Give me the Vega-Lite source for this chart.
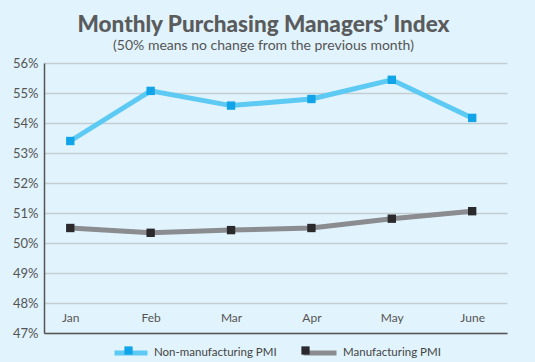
{
  "$schema": "https://vega.github.io/schema/vega-lite/v6.json",
  "width": 463,
  "height": 270,
  "autosize": "none",
  "padding": {"left": 44, "top": 63, "right": 28, "bottom": 29},
  "background": "#e1f3fc",
  "title": {
    "text": "Monthly Purchasing Managers’ Index",
    "subtitle": "(50% means no change from the previous month)",
    "anchor": "middle",
    "dx": -12,
    "offset": 4,
    "font": "Lato",
    "fontSize": 22.5,
    "fontWeight": 900,
    "color": "#5a5b5d",
    "subtitleFont": "Lato",
    "subtitleFontSize": 14,
    "subtitleColor": "#555555",
    "subtitlePadding": 3
  },
  "data": {
    "values": [
      {"month": "Jan", "series": "Non-manufacturing PMI", "value": 53.4},
      {"month": "Feb", "series": "Non-manufacturing PMI", "value": 55.07},
      {"month": "Mar", "series": "Non-manufacturing PMI", "value": 54.58},
      {"month": "Apr", "series": "Non-manufacturing PMI", "value": 54.8},
      {"month": "May", "series": "Non-manufacturing PMI", "value": 55.44},
      {"month": "June", "series": "Non-manufacturing PMI", "value": 54.17},
      {"month": "Jan", "series": "Manufacturing PMI", "value": 50.5},
      {"month": "Feb", "series": "Manufacturing PMI", "value": 50.34},
      {"month": "Mar", "series": "Manufacturing PMI", "value": 50.43},
      {"month": "Apr", "series": "Manufacturing PMI", "value": 50.5},
      {"month": "May", "series": "Manufacturing PMI", "value": 50.81},
      {"month": "June", "series": "Manufacturing PMI", "value": 51.06}
    ]
  },
  "encoding": {
    "x": {
      "field": "month",
      "type": "ordinal",
      "sort": ["Jan", "Feb", "Mar", "Apr", "May", "June"],
      "scale": {"type": "point", "padding": 0.38, "align": 0.43},
      "axis": {
        "title": null,
        "ticks": false,
        "labelAngle": 0,
        "labelPadding": -21,
        "labelFont": "Lato",
        "labelFontSize": 12,
        "labelColor": "#555555",
        "domainColor": "#555555",
        "domainWidth": 1.5,
        "grid": false
      }
    },
    "y": {
      "field": "value",
      "type": "quantitative",
      "scale": {"domain": [47, 56], "nice": false, "zero": false},
      "axis": {
        "title": null,
        "values": [47, 48, 49, 50, 51, 52, 53, 54, 55, 56],
        "labelExpr": "datum.label + '%'",
        "ticks": false,
        "labelPadding": 6,
        "labelFont": "Lato",
        "labelFontSize": 13,
        "labelColor": "#555555",
        "domainColor": "#555555",
        "domainWidth": 1.5,
        "grid": true,
        "gridColor": "#c3cdd2",
        "gridWidth": 1.5
      }
    }
  },
  "layer": [
    {
      "mark": {"type": "line", "strokeWidth": 5},
      "encoding": {
        "stroke": {
          "field": "series",
          "type": "nominal",
          "sort": ["Non-manufacturing PMI", "Manufacturing PMI"],
          "scale": {"range": ["#5ccaf3", "#8a8c90"]},
          "legend": {
            "title": null,
            "orient": "none",
            "direction": "horizontal",
            "legendX": 68,
            "legendY": 271,
            "symbolType": "M-1,0H1",
            "symbolSize": 1089,
            "symbolStrokeWidth": 5,
            "labelFont": "Lato",
            "labelFontSize": 11.5,
            "labelColor": "#444444",
            "labelOffset": 4,
            "columnPadding": 16
          }
        }
      }
    },
    {
      "mark": {"type": "square", "size": 70, "opacity": 1, "filled": true},
      "encoding": {
        "fill": {
          "field": "series",
          "type": "nominal",
          "scale": {"domain": ["Non-manufacturing PMI", "Manufacturing PMI"], "range": ["#12a4e8", "#2a2a2d"]},
          "legend": {
            "title": null,
            "orient": "none",
            "direction": "horizontal",
            "legendX": 68,
            "legendY": 271,
            "symbolType": "M-0.25,-0.25H0.25V0.25H-0.25Z",
            "symbolSize": 1089,
            "symbolStrokeWidth": 0,
            "labelExpr": "''",
            "labelFontSize": 11.5,
            "labelOffset": 4,
            "columnPadding": 140
          }
        }
      }
    }
  ],
  "config": {
    "view": {"stroke": null}
  }
}
